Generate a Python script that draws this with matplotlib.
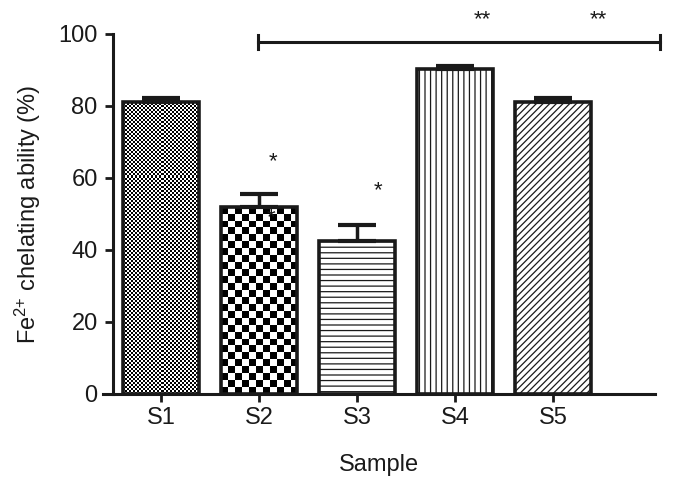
import numpy as np
import matplotlib
matplotlib.use('Agg')
import matplotlib.pyplot as plt

plt.rcParams['font.family'] = ['Liberation Sans', 'DejaVu Sans']
plt.rcParams['mathtext.fontset'] = 'custom'
plt.rcParams['mathtext.rm'] = 'Liberation Sans'
plt.rcParams['mathtext.default'] = 'regular'
plt.rcParams['hatch.linewidth'] = 0.9

# data
samples = ['S1', 'S2', 'S3', 'S4', 'S5']
values = [81.2, 52.0, 42.6, 90.4, 81.2]
errors = [1.0, 3.6, 4.3, 0.8, 1.0]
hatches = [None, None, '---', '|||', '/////']
checker_cells = [38, 11, 0, 0, 0]   # checkerboard fills for S1 and S2

# significance marks (x position, y value, text)
star_x = [1.14, 1.12, 2.21, 3.28, 4.46]
star_y = [64.5, 49.0, 56.5, 104.0, 104.0]
star_txt = ['*', '*', '*', '**', '**']
bracket_span = [0.99, 5.09]
bracket_y = 97.8

ink = '#1a1a1a'

fig = plt.figure(figsize=(6.75, 4.87), dpi=100)
ax = fig.add_axes([103 / 675, 93 / 487, 552 / 675, 360 / 487])

x = np.arange(len(samples))
# white faces + hatches underneath, outlines on top
bars = ax.bar(x, values, width=0.78, color='white', edgecolor=ink,
              linewidth=0, zorder=1)
for bar, h in zip(bars, hatches):
    if h:
        bar.set_hatch(h)

for bar, n in zip(bars, checker_cells):
    if n:
        x0, w = bar.get_x(), bar.get_width()
        hgt = bar.get_height()
        cell = 76 / n / 3.6          # cell height in data units
        rows = int(np.ceil(hgt / cell))
        board = (np.add.outer(np.arange(rows), np.arange(n)) % 2).astype(float)
        im = ax.imshow(board, cmap='gray', vmin=0, vmax=1, interpolation='nearest',
                       extent=[x0, x0 + w, 0, rows * cell],
                       aspect='auto', origin='lower', zorder=1.5)
        im.set_clip_path(bar)

ax.bar(x, values, width=0.78, facecolor='none', edgecolor=ink,
       linewidth=2.6, zorder=2)

# upward-only error bars
ax.errorbar(x, values, yerr=[np.zeros(len(values)), errors], fmt='none',
            ecolor=ink, elinewidth=2.5, capsize=14, capthick=3, zorder=3)

# significance bracket and stars
ax.plot(bracket_span, [bracket_y, bracket_y], color=ink, lw=2.2,
        clip_on=False, zorder=4)
for bx in bracket_span:
    ax.plot([bx, bx], [bracket_y - 2, bracket_y + 2], color=ink, lw=2.2,
            clip_on=False, zorder=4)
for sx, sy, st in zip(star_x, star_y, star_txt):
    ax.text(sx, sy, st, ha='center', va='center', fontsize=16, color=ink,
            clip_on=False, zorder=5)

ax.set_xlim(-0.592, 5.04)
ax.set_ylim(0, 100)
ax.set_xticks(x)
ax.set_xticklabels(samples)
ax.set_yticks([0, 20, 40, 60, 80, 100])

ax.spines['top'].set_visible(False)
ax.spines['right'].set_visible(False)
ax.spines['left'].set_position(('data', -0.49))
for s in ['left', 'bottom']:
    ax.spines[s].set_linewidth(2.2)
    ax.spines[s].set_color(ink)
ax.tick_params(axis='both', width=2.0, length=6, labelsize=17, colors=ink)
ax.tick_params(axis='x', pad=3)
ax.tick_params(axis='y', pad=5)

ax.set_xlabel('Sample', fontsize=17, labelpad=18, color=ink)
ax.set_ylabel('Fe$^{2{+}}$ chelating ability (%)', fontsize=17, color=ink,
              labelpad=11)

fig.savefig('out.png', dpi=100)
